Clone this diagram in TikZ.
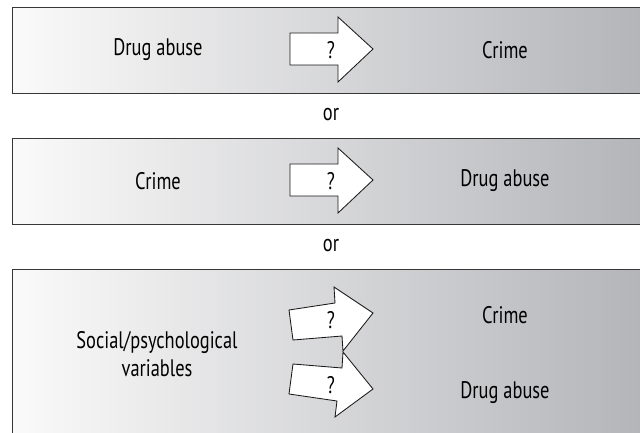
\documentclass[tikz,border=0pt]{standalone}
\usepackage{fontspec}
\setmainfont{PT Sans}[FakeStretch=0.77]
\usepackage{tikz}
\usetikzlibrary{positioning}
\definecolor{panelleft}{RGB}{250,250,250}
\definecolor{panelright}{RGB}{178,179,183}
\definecolor{rim}{RGB}{55,55,55}

\begin{document}
\begin{tikzpicture}[
    x=0.025cm, y=-0.025cm,
    font=\fontsize{17}{20}\selectfont,
    panel/.style={draw=rim, line width=0.8pt, left color=panelleft, right color=panelright,
                  minimum width=16.2cm, anchor=north west, inner sep=0pt},
    blk/.style={draw=black!90, fill=white, line width=0.6pt, line join=miter},
    lbl/.style={inner sep=1pt, align=center, text=black}
]
\useasboundingbox (0,0) rectangle (640,433);
\clip (0,0) rectangle (640,433);
% three panels
\node[panel, minimum height=2.15cm] (p1) at (12,7)   {};
\node[panel, minimum height=2.15cm] (p2) at (12,138) {};
\node[panel, minimum height=4.8cm]  (p3) at (12,269) {};
\node[lbl] (or1) at (331,115) {or};
\node[lbl] (or2) at (331,246) {or};
% panel 1
\node[lbl] (drug1)  at (158,50) {Drug abuse};
\node[lbl] (crime1) at (505,50) {Crime};
\draw[blk] (290,33) -- (338,33) -- (338,17) -- (373,49) -- (338,82) -- (338,65) -- (290,65) -- cycle;
\node[lbl] (q1) at (331,50) {?};
% panel 2
\node[lbl] (crime2) at (158,181) {Crime};
\node[lbl] (drug2)  at (505,181) {Drug abuse};
\draw[blk] (290,164) -- (338,164) -- (338,148) -- (373,180) -- (338,213) -- (338,196) -- (290,196) -- cycle;
\node[lbl] (q2) at (331,181) {?};
% panel 3
\node[lbl] (social) at (157,354) {Social/psychological\\variables};
\node[lbl] (crime3) at (505,315) {Crime};
\node[lbl] (drug3)  at (505,393) {Drug abuse};
\draw[blk] (289,310) -- (335,303) -- (334,287) -- (373,313) -- (343,351) -- (342,336) -- (293,340) -- cycle;
\draw[blk] (293,364) -- (342,368) -- (343,352) -- (373,389) -- (335,417) -- (337,401) -- (289,394) -- cycle;
\node[lbl] (q3) at (331,320) {?};
\node[lbl] (q4) at (331,385) {?};
\end{tikzpicture}
\end{document}
